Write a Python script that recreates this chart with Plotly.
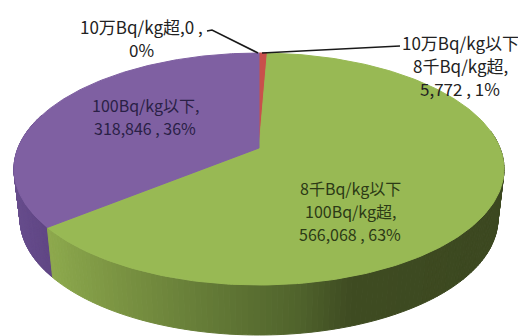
import numpy as np
import plotly.graph_objects as go

categories = ["10万Bq/kg超", "10万Bq/kg以下8千Bq/kg超", "8千Bq/kg以下100Bq/kg超", "100Bq/kg以下"]
values = [0, 5772, 566068, 318846]
labels = ["10万Bq/kg超,0 ,<br>0%", "10万Bq/kg以下<br>8千Bq/kg超,<br>5,772 , 1%",
          "8千Bq/kg以下<br>100Bq/kg超,<br>566,068 , 63%", "100Bq/kg以下,<br>318,846 , 36%"]
top_colors = ["#4f81bd", "#c9504b", "#98b954", "#7f60a2"]
label_colors = ["#222222", "#222222", "#2c3a16", "#2a2046"]
label_pos = [(141, 38), (460, 65), (350, 211), (145, 116)]
label_sizes = [17, 17, 16, 16]
LINE_HEIGHT = 23

# projected pie geometry (pixel-scale axes)
CX, CY, A, B, E = 259, 148, 241, 112.2, 0.181
DEPTH, SHRINK = 50, 0.975


def proj(phi):
    c, s = np.sin(phi), -np.cos(phi)
    d = 1 - E * s
    return CX + A * c / d, CY + B * s / d


def lower(x, y):
    return CX + SHRINK * (x - CX), y + DEPTH


def lerp_stops(x, stops):
    xs = [p[0] for p in stops]
    return "rgb(%d,%d,%d)" % tuple(np.interp(x, xs, [p[1][i] for p in stops]) for i in range(3))


green_stops = [(45, (142, 170, 78)), (120, (122, 147, 66)), (200, (102, 125, 56)),
               (300, (80, 99, 44)), (350, (63, 76, 34)), (500, (60, 72, 32))]
purple_stops = [(10, (104, 78, 142)), (50, (96, 70, 132))]

fig = go.Figure()
total = sum(values)
edges = 2 * np.pi * np.cumsum([0] + values) / total


def add_poly(xs, ys, color):
    fig.add_trace(go.Scatter(x=xs, y=ys, mode="lines", fill="toself", fillcolor=color,
                             line=dict(color=color, width=1), hoverinfo="skip", showlegend=False))


# side walls
for idx, stops in ((3, purple_stops), (2, green_stops)):
    a0, a1 = edges[idx], edges[idx + 1]
    if idx == 2:
        a0 = max(a0, np.pi * 0.45)
    else:
        a1 = min(a1, np.pi * 1.6)
    grid = np.linspace(a0, a1, 130)
    for p, q in zip(grid[:-1], grid[1:]):
        x0, y0 = proj(p)
        x1, y1 = proj(q)
        x2, y2 = lower(x1, y1)
        x3, y3 = lower(x0, y0)
        add_poly([x0, x1, x2, x3, x0], [y0, y1, y2, y3, y0], lerp_stops((x0 + x1) / 2, stops))

# top face
for i in range(len(values)):
    if values[i] == 0:
        continue
    phi = np.linspace(edges[i], edges[i + 1], 200)
    xs, ys = proj(phi)
    add_poly(np.r_[CX, xs, CX], np.r_[CY, ys, CY], top_colors[i])

# leader lines
for lx, ly in (([207, 212, 258], [31, 30, 53]), ([262, 400], [53, 46])):
    fig.add_trace(go.Scatter(x=lx, y=ly, mode="lines", line=dict(color="#1a1a1a", width=1.6),
                             hoverinfo="skip", showlegend=False))

for text, (x, y), color, size in zip(labels, label_pos, label_colors, label_sizes):
    rows = text.split("<br>")
    for k, row in enumerate(rows):
        fig.add_annotation(x=x, y=y + (k - (len(rows) - 1) / 2) * LINE_HEIGHT, text=row, showarrow=False,
                           xanchor="center", yanchor="middle",
                           font=dict(family="Noto Sans CJK JP, Noto Sans", size=size, color=color))

fig.update_layout(width=518, height=336, margin=dict(l=0, r=0, t=0, b=0),
                  paper_bgcolor="white", plot_bgcolor="white", showlegend=False,
                  xaxis=dict(range=[0, 518], visible=False, fixedrange=True),
                  yaxis=dict(range=[336, 0], visible=False, fixedrange=True))
fig.write_html("out.html", config={"displayModeBar": False},
               post_script="document.documentElement.style.overflow='hidden';document.body.style.margin='0';")
